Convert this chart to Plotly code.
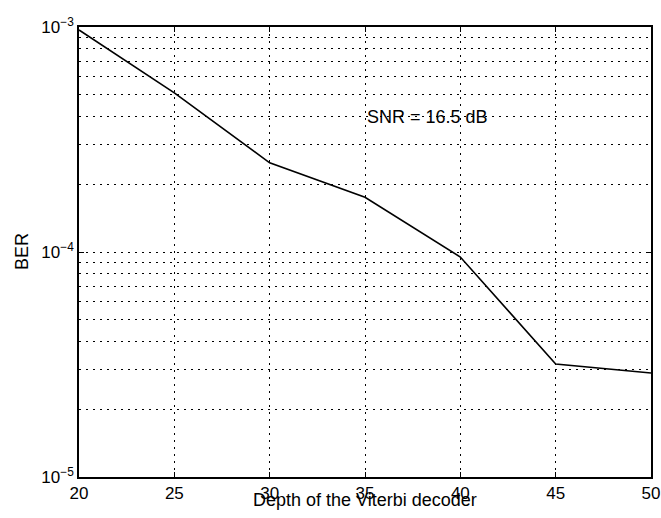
import math
import plotly.graph_objects as go

depth = [20, 25, 30, 35, 40, 45, 50]
ber = [9.7e-4, 5.1e-4, 2.49e-4, 1.75e-4, 9.5e-5, 3.18e-5, 2.9e-5]
x_ticks = [20, 25, 30, 35, 40, 45, 50]
y_ticks = [1e-5, 1e-4, 1e-3]
y_tick_text = ["10<sup>−5</sup>", "10<sup>−4</sup>", "10<sup>−3</sup>"]
annotation_text = "SNR = 16.5 dB"
annotation_pos = (35, 4.0e-4)
x_title = "Depth of the Viterbi decoder"
y_title = "BER"

FONT = "Liberation Sans, Arial, sans-serif"
FS = 18
TFS = 17
DOTS = "2px,5px"

fig = go.Figure()
fig.add_trace(go.Scatter(x=depth, y=ber, mode="lines",
                         line=dict(color="black", width=1.6), showlegend=False))

fig.add_annotation(x=annotation_pos[0], y=math.log10(annotation_pos[1]),
                   text=annotation_text, showarrow=False, xanchor="left", yanchor="middle",
                   font=dict(family=FONT, size=FS, color="black"))

# axis titles placed as paper annotations (the original title hugs the tick labels)
fig.add_annotation(xref="paper", yref="paper", x=0.5, y=0, yshift=-23,
                   text=x_title, showarrow=False, xanchor="center", yanchor="middle",
                   font=dict(family=FONT, size=FS, color="black"))
fig.add_annotation(xref="paper", yref="paper", x=0, y=0.5, xshift=-57,
                   text=y_title, showarrow=False, xanchor="center", yanchor="middle",
                   textangle=-90, font=dict(family=FONT, size=FS, color="black"))

fig.update_layout(
    width=661, height=518,
    margin=dict(l=79, r=10, t=27, b=41),
    paper_bgcolor="white", plot_bgcolor="white",
    font=dict(family=FONT, size=FS, color="black"),
    xaxis=dict(range=[20, 50], tickvals=x_ticks, showgrid=True, gridcolor="black",
               griddash=DOTS, gridwidth=1.3, showline=True, linecolor="black", linewidth=1.5,
               mirror="ticks", ticks="inside", ticklen=5, tickcolor="black",
               zeroline=False, tickfont=dict(size=TFS), automargin=False,
               ticklabelstandoff=0, ticklabeloverflow="allow"),
    yaxis=dict(type="log", range=[-5, -3], tickvals=y_ticks, ticktext=y_tick_text,
               showgrid=False, showline=True, linecolor="black", linewidth=1.5,
               mirror="ticks", ticks="inside", ticklen=5, tickcolor="black",
               minor=dict(dtick="D1", showgrid=True, gridcolor="black", griddash=DOTS,
                          gridwidth=1.3, ticks=""),
               zeroline=False, tickfont=dict(size=TFS), automargin=False,
               ticklabeloverflow="allow"),
)

fig.write_html("out.html", config={"displayModeBar": False},
               post_script="document.body.style.margin='0';document.body.style.overflow='hidden';")
